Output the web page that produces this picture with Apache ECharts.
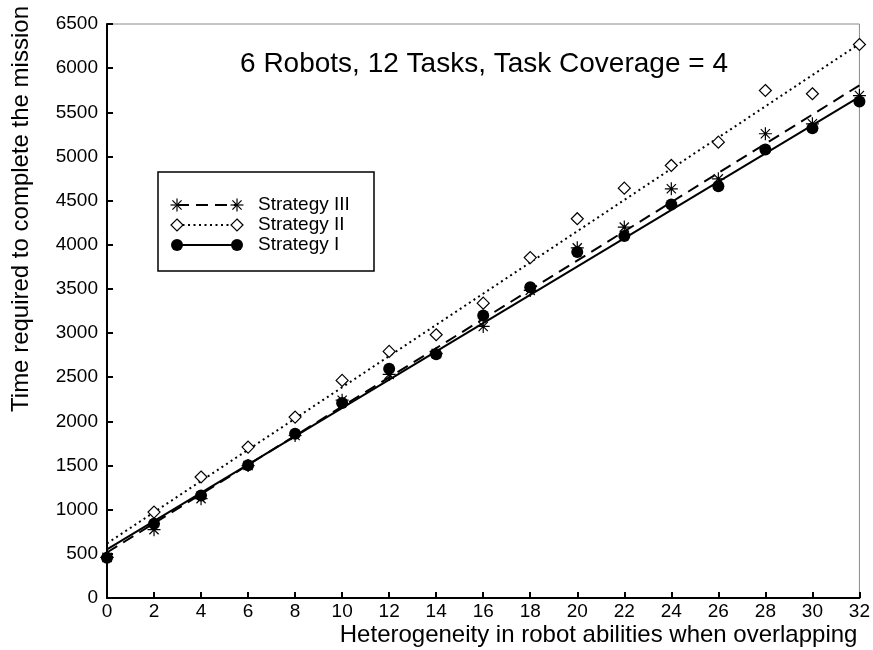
<!DOCTYPE html>
<html>
<head>
<meta charset="utf-8">
<script src="https://cdn.jsdelivr.net/npm/echarts@6/dist/echarts.min.js"></script>
<style>
html,body{margin:0;padding:0;background:#fff;}
#chart{width:873px;height:650px;}
</style>
</head>
<body>
<div id="chart"></div>
<script>
// ---- data ----
const heterogeneity = [0, 2, 4, 6, 8, 10, 12, 14, 16, 18, 20, 22, 24, 26, 28, 30, 32];
const strategyI   = [455, 842, 1162, 1502, 1861, 2207, 2597, 2759, 3200, 3520, 3917, 4098, 4457, 4664, 5079, 5320, 5623];
const strategyII  = [460, 973, 1370, 1709, 2049, 2464, 2792, 2981, 3339, 3855, 4295, 4641, 4898, 5162, 5747, 5710, 6268];
const strategyIII = [460, 774, 1125, 1500, 1840, 2240, 2532, 2770, 3075, 3483, 3965, 4200, 4634, 4747, 5257, 5370, 5690];
// fitted trend lines (end points)
const fitX    = [0, 32];
const fitI    = [550, 5675];
const fitII   = [618, 6275];
const fitIII  = [515, 5805];
const seriesNames = ['Strategy III', 'Strategy II', 'Strategy I'];
const titleText = '6 Robots, 12 Tasks, Task Coverage = 4';
const xAxisName = 'Heterogeneity in robot abilities when overlapping';
const yAxisName = 'Time required to complete the mission';

const FONT = '"Liberation Sans", Arial, Helvetica, sans-serif';
const pair = (xs, ys) => xs.map((x, i) => [x, ys[i]]);
const ASTERISK = 'path://M0,-10L0,10M-10,0L10,0M-7.07,-7.07L7.07,7.07M-7.07,7.07L7.07,-7.07';

const chart = echarts.init(document.getElementById('chart'), null, {renderer: 'canvas'});

// legend drawn as graphic (line with a symbol at each end)
function legendRow(y, name, kind) {
  const els = [];
  const x1 = 177, x2 = 237;
  let dash = null;
  if (kind === 'III') dash = [12, 7];
  if (kind === 'II') dash = [2, 3.5];
  els.push({type: 'line', shape: {x1: x1, y1: y, x2: x2, y2: y},
    style: {stroke: '#000', lineWidth: 2, lineDash: dash}, z: 10});
  [x1, x2].forEach(cx => {
    if (kind === 'I') {
      els.push({type: 'circle', shape: {cx: cx, cy: y, r: 6}, style: {fill: '#000'}, z: 11});
    } else if (kind === 'II') {
      els.push({type: 'polygon', shape: {points: [[cx, y - 6], [cx + 6, y], [cx, y + 6], [cx - 6, y]]},
        style: {fill: '#fff', stroke: '#000', lineWidth: 1.2}, z: 11});
    } else {
      const r = 6.5, d = 4.6;
      [[0, -r, 0, r], [-r, 0, r, 0], [-d, -d, d, d], [-d, d, d, -d]].forEach(s => {
        els.push({type: 'line', shape: {x1: cx + s[0], y1: y + s[1], x2: cx + s[2], y2: y + s[3]},
          style: {stroke: '#000', lineWidth: 1.2}, z: 11});
      });
    }
  });
  els.push({type: 'text', x: 258, y: y, style: {text: name, font: '19px ' + FONT, fill: '#000',
    textAlign: 'left', textVerticalAlign: 'middle'}, z: 11});
  return els;
}

const graphics = [
  {type: 'rect', shape: {x: 158, y: 172, width: 216, height: 99},
    style: {fill: '#fff', stroke: '#000', lineWidth: 1.5}, z: 9},
  ...legendRow(205, seriesNames[0], 'III'),
  ...legendRow(225, seriesNames[1], 'II'),
  ...legendRow(245, seriesNames[2], 'I'),
  {type: 'text', x: 21, y: 209, rotation: Math.PI / 2,
    style: {text: yAxisName, font: '24px ' + FONT, fill: '#000', textAlign: 'center', textVerticalAlign: 'middle'}}
];

const option = {
  backgroundColor: '#fff',
  animation: false,
  title: {
    text: titleText, left: 479, top: 45, textAlign: 'center',
    textStyle: {fontFamily: FONT, fontSize: 28, fontWeight: 'normal', color: '#000'}
  },
  grid: {left: 107, right: 13, top: 24, bottom: 52, show: true, borderColor: '#8a8a8a', borderWidth: 1, backgroundColor: 'transparent'},
  xAxis: {
    type: 'value', min: 0, max: 32, interval: 2,
    name: xAxisName, nameLocation: 'end', nameGap: -2,
    nameTextStyle: {fontFamily: FONT, fontSize: 24, color: '#000', align: 'right', verticalAlign: 'top', padding: [25, 0, 0, 0]},
    axisLine: {show: true, lineStyle: {color: '#000', width: 2}},
    axisTick: {show: true, inside: true, length: 6, lineStyle: {color: '#000', width: 2}},
    axisLabel: {fontFamily: FONT, fontSize: 19, color: '#000', margin: 4, formatter: v => String(v)},
    splitLine: {show: false}
  },
  yAxis: {
    type: 'value', min: 0, max: 6500, interval: 500,
    axisLine: {show: true, lineStyle: {color: '#000', width: 2}},
    axisTick: {show: true, inside: true, length: 6, lineStyle: {color: '#000', width: 2}},
    axisLabel: {fontFamily: FONT, fontSize: 19, color: '#000', margin: 9, formatter: v => String(v)},
    splitLine: {show: false}
  },
  series: [
    {name: 'Strategy I fit', type: 'line', data: pair(fitX, fitI), showSymbol: false, silent: true,
      lineStyle: {color: '#000', width: 2, type: 'solid'}, z: 2},
    {name: 'Strategy III fit', type: 'line', data: pair(fitX, fitIII), showSymbol: false, silent: true,
      lineStyle: {color: '#000', width: 2, type: [12, 7]}, z: 2},
    {name: 'Strategy II fit', type: 'line', data: pair(fitX, fitII), showSymbol: false, silent: true,
      lineStyle: {color: '#000', width: 2, type: [2, 3.5]}, z: 2},
    {name: seriesNames[1], type: 'scatter', data: pair(heterogeneity, strategyII), symbol: 'diamond', symbolSize: [12, 12],
      itemStyle: {color: '#fff', borderColor: '#000', borderWidth: 1.2, opacity: 1}, z: 3},
    {name: seriesNames[2], type: 'scatter', data: pair(heterogeneity, strategyI), symbol: 'circle', symbolSize: 12,
      itemStyle: {color: '#000', opacity: 1}, z: 4},
    {name: seriesNames[0], type: 'scatter', data: pair(heterogeneity, strategyIII), symbol: ASTERISK, symbolSize: 13,
      itemStyle: {color: 'rgba(0,0,0,0)', borderColor: '#000', borderWidth: 1.2, opacity: 1}, z: 5}
  ],
  graphic: graphics
};
chart.setOption(option);
</script>
</body>
</html>
